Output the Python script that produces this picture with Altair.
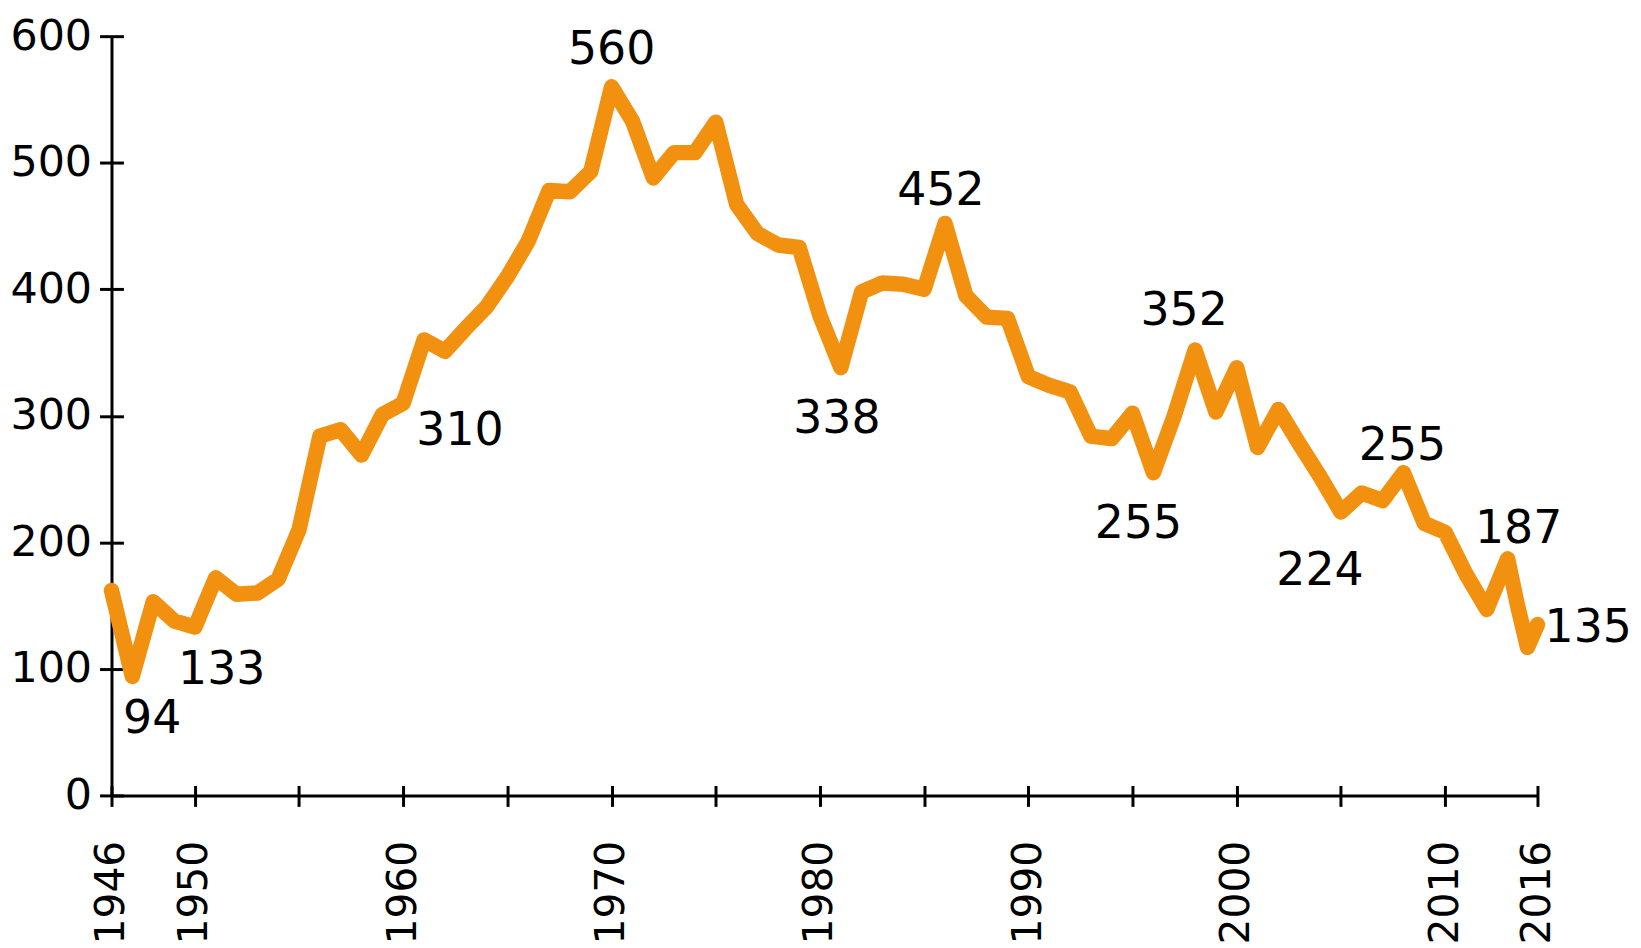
import altair as alt
import pandas as pd

# Yearly values
years = list(range(1946, 2017))
deaths = [162, 94, 153, 138, 133, 172, 159, 160, 171, 210,
          284, 289, 269, 301, 310, 360, 351, 369, 386, 410,
          438, 478, 477, 493, 560, 533, 488, 508, 508, 532,
          467, 444, 435, 433, 379, 338, 398, 405, 404, 400,
          452, 395, 378, 377, 331, 324, 319, 284, 282, 302,
          255, 300, 352, 303, 338, 275, 305, 278, 252, 224,
          239, 233, 255, 215, 208, 175, 147, 187, 150, 117,
          135]

x_tick_years = [1946, 1950, 1955, 1960, 1965, 1970, 1975, 1980, 1985,
                1990, 1995, 2000, 2005, 2010, 2016]
x_label_years = [1946, 1950, 1960, 1970, 1980, 1990, 2000, 2010, 2016]
y_ticks = [0, 100, 200, 300, 400, 500, 600]

# labelled points (year) with label offsets (style)
labelled = [(1947, 20, 43), (1950, 27, 43), (1960, 57, 28), (1970, 0, -37),
            (1981, -4, 52), (1986, -4, -33), (1996, -15, 52), (1998, -11, -39),
            (2005, -21, 59), (2008, -1, -27), (2013, 11, -30), (2016, 51, 3)]

df = pd.DataFrame({"year": years, "deaths": deaths})

W, H = 1434, 763
ORANGE = "#F1910F"
FONT = "DejaVu Sans"

xscale = alt.Scale(domain=[1946, 2013, 2016], range=[0, 1403, 1433], nice=False, zero=False)
yscale = alt.Scale(domain=[0, 600], nice=False)

label_expr = "indexof([" + ",".join(str(v) for v in x_label_years) + "], datum.value) >= 0 ? datum.value : ''"

base = alt.Chart(df)

line = base.mark_line(color=ORANGE, strokeWidth=15.5, strokeJoin="round", strokeCap="round").encode(
    x=alt.X("year:Q", scale=xscale,
            axis=alt.Axis(values=x_tick_years, orient="bottom", labelAngle=270, tickSize=11,
                          labelPadding=34, domainWidth=3, tickWidth=3, domainColor="black",
                          tickColor="black", labelColor="black", labelFontSize=41, labelFont=FONT,
                          title=None, grid=False, labelOverlap=False, format="d",
                          labelExpr=label_expr)),
    y=alt.Y("deaths:Q", scale=yscale,
            axis=alt.Axis(values=y_ticks, orient="left", tickSize=12, labelPadding=8,
                          domainWidth=3, tickWidth=3, domainColor="black", tickColor="black",
                          labelColor="black", labelFontSize=43, labelFont=FONT, title=None,
                          grid=False)),
)

inner_ticks = base.mark_point(opacity=0).encode(
    x=alt.X("year:Q", scale=xscale,
            axis=alt.Axis(values=x_tick_years, orient="top", offset=-H, labels=False,
                          domain=False, tickSize=10, tickWidth=3, tickColor="black",
                          grid=False, title=None)),
    y=alt.Y("deaths:Q", scale=yscale,
            axis=alt.Axis(values=y_ticks, orient="right", offset=-W, labels=False,
                          domain=False, tickSize=12, tickWidth=3, tickColor="black",
                          grid=False, title=None)),
)

label_layers = []
for yr, dx, dy in labelled:
    label_layers.append(
        base.transform_filter(alt.datum.year == yr).mark_text(
            dx=dx, dy=dy, fontSize=46, font=FONT, color="black", align="center", baseline="middle"
        ).encode(
            x=alt.X("year:Q", scale=xscale, axis=None),
            y=alt.Y("deaths:Q", scale=yscale, axis=None),
            text=alt.Text("deaths:Q", format="d"),
        )
    )

chart = alt.layer(line, inner_ticks, *label_layers).resolve_axis(
    x="independent", y="independent"
).properties(
    width=W, height=H,
    autosize=alt.AutoSizeParams(type="none"),
    padding={"left": 104, "top": 26, "right": 95, "bottom": 150},
).configure_view(stroke=None)

chart.save("out.html", embed_options={"renderer": "svg", "actions": False})
